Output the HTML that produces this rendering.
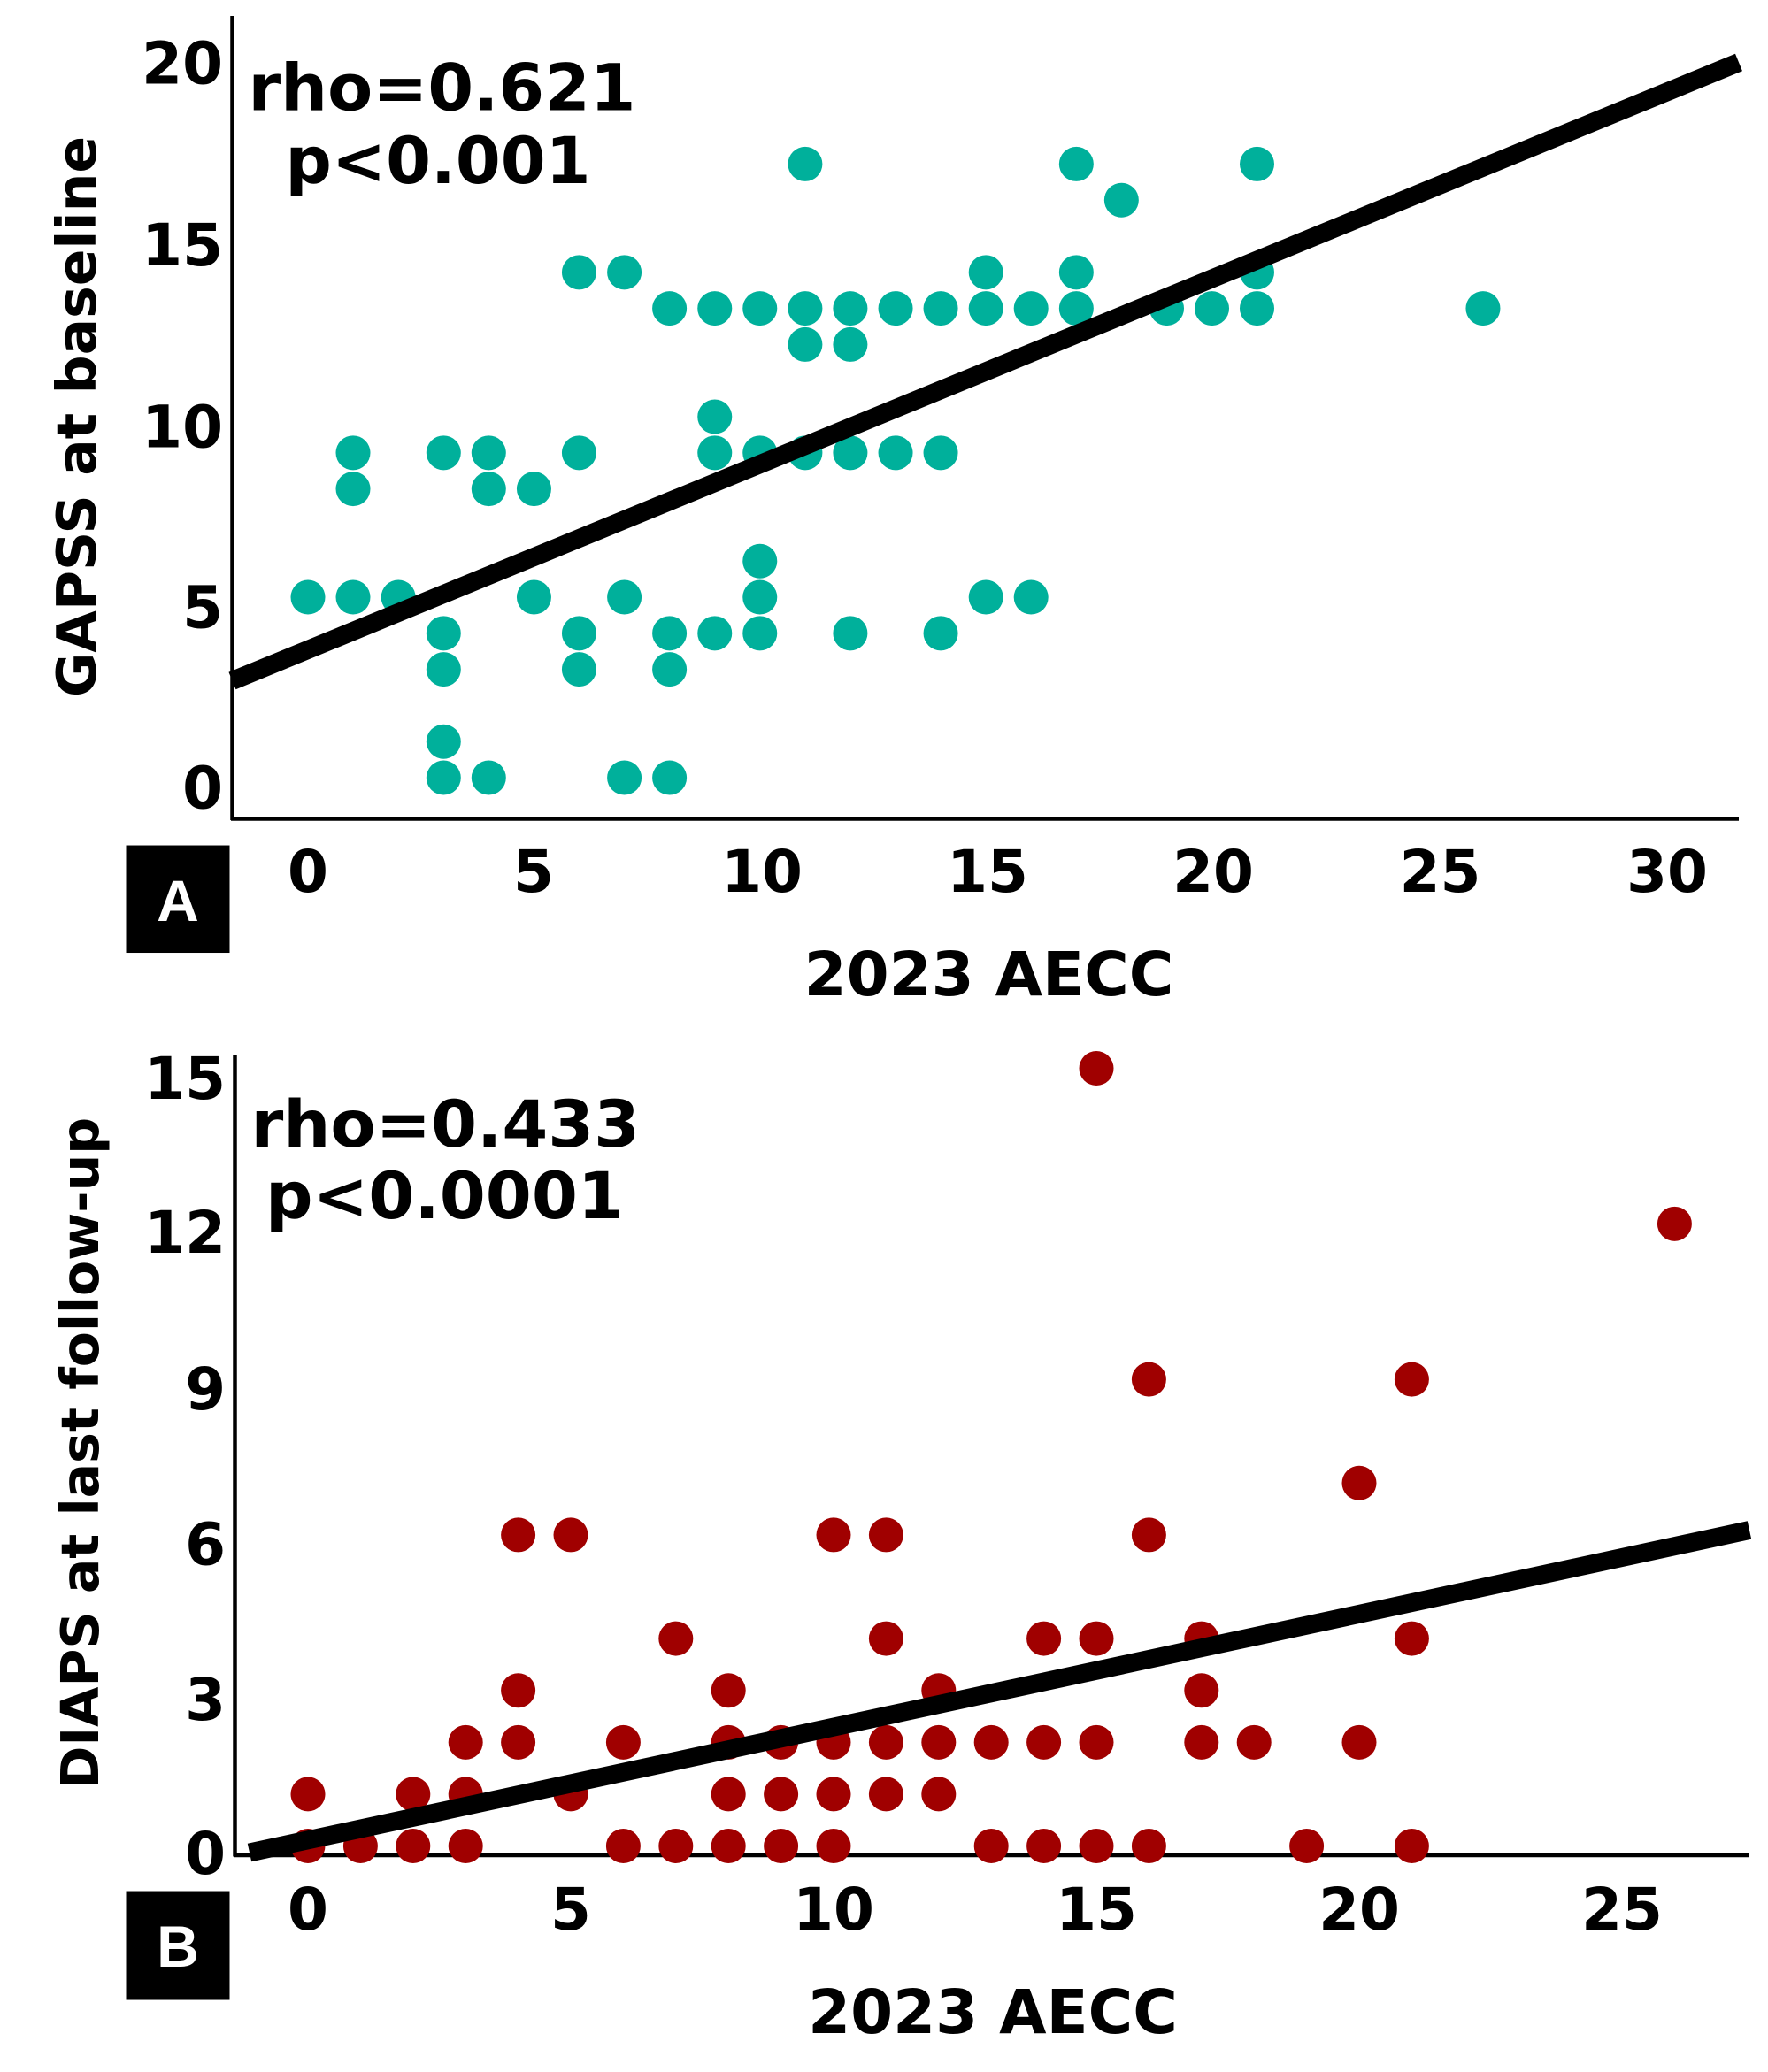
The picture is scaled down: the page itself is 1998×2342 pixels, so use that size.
<!DOCTYPE html>
<html><head><meta charset="utf-8"><style>html,body{margin:0;padding:0;background:#fff}svg{display:block}</style></head><body>
<svg width="1998" height="2342" viewBox="0 0 1332 1561.3" xmlns="http://www.w3.org/2000/svg" font-family="'DejaVu Sans','Liberation Sans',sans-serif" font-weight="bold">
<rect width="1332" height="1562" fill="#fff"/>
<line x1="175" y1="12" x2="175" y2="618" stroke="#000" stroke-width="3"/>
<line x1="174" y1="617" x2="1310" y2="617" stroke="#000" stroke-width="3"/>
<g font-size="44" text-anchor="end">
<text x="168" y="63">20</text><text x="168" y="200">15</text><text x="168" y="337">10</text><text x="168" y="473">5</text><text x="168" y="609">0</text>
</g>
<g font-size="44" text-anchor="middle">
<text x="232" y="672">0</text><text x="402" y="672">5</text><text x="574" y="672">10</text><text x="744" y="672">15</text><text x="914" y="672">20</text><text x="1085" y="672">25</text><text x="1256" y="672">30</text>
</g>
<text x="745" y="750" font-size="46" text-anchor="middle">2023 AECC</text>
<text transform="translate(72,314) rotate(-90)" font-size="41" text-anchor="middle">GAPSS at baseline</text>
<text x="187" y="83" font-size="49" textLength="292" lengthAdjust="spacingAndGlyphs">rho=0.621</text>
<text x="215" y="138" font-size="49" textLength="230" lengthAdjust="spacingAndGlyphs">p&lt;0.001</text>
<rect x="95" y="637" width="78" height="81" fill="#000"/>
<text x="134" y="694" font-size="44" fill="#fff" text-anchor="middle" font-family="'Liberation Sans',sans-serif">A</text>

<line x1="177" y1="795" x2="177" y2="1399" stroke="#000" stroke-width="3"/>
<line x1="176" y1="1398" x2="1318" y2="1398" stroke="#000" stroke-width="3"/>
<g font-size="44" text-anchor="end">
<text x="170" y="828">15</text><text x="170" y="944">12</text><text x="170" y="1062">9</text><text x="170" y="1179">6</text><text x="170" y="1296">3</text><text x="170" y="1412">0</text>
</g>
<g font-size="44" text-anchor="middle">
<text x="232" y="1454">0</text><text x="430" y="1454">5</text><text x="628" y="1454">10</text><text x="826" y="1454">15</text><text x="1024" y="1454">20</text><text x="1222" y="1454">25</text>
</g>
<text x="748" y="1532" font-size="46" text-anchor="middle">2023 AECC</text>
<text transform="translate(74,1095) rotate(-90)" font-size="39" text-anchor="middle">DIAPS at last follow-up</text>
<text x="189" y="864" font-size="49" textLength="293" lengthAdjust="spacingAndGlyphs">rho=0.433</text>
<text x="200" y="918" font-size="49" textLength="270" lengthAdjust="spacingAndGlyphs">p&lt;0.0001</text>
<rect x="95" y="1425" width="78" height="82" fill="#000"/>
<text x="134" y="1482" font-size="44" fill="#fff" text-anchor="middle" font-family="'Liberation Sans',sans-serif">B</text>

<g fill="#00b09b">
<circle cx="606.6" cy="123.6" r="13"/><circle cx="810.9" cy="123.6" r="13"/><circle cx="947" cy="123.6" r="13"/>
<circle cx="844.9" cy="150.8" r="13"/>
<circle cx="436.3" cy="205.2" r="13"/><circle cx="470.4" cy="205.2" r="13"/><circle cx="742.8" cy="205.2" r="13"/><circle cx="810.9" cy="205.2" r="13"/><circle cx="947" cy="205.2" r="13"/>
<circle cx="504.4" cy="232.4" r="13"/><circle cx="538.5" cy="232.4" r="13"/><circle cx="572.5" cy="232.4" r="13"/><circle cx="606.6" cy="232.4" r="13"/><circle cx="640.6" cy="232.4" r="13"/><circle cx="674.7" cy="232.4" r="13"/><circle cx="708.7" cy="232.4" r="13"/><circle cx="742.8" cy="232.4" r="13"/><circle cx="776.8" cy="232.4" r="13"/><circle cx="810.9" cy="232.4" r="13"/><circle cx="879" cy="232.4" r="13"/><circle cx="913" cy="232.4" r="13"/><circle cx="947" cy="232.4" r="13"/><circle cx="1117.3" cy="232.4" r="13"/>
<circle cx="606.6" cy="259.6" r="13"/><circle cx="640.6" cy="259.6" r="13"/>
<circle cx="538.5" cy="314" r="13"/>
<circle cx="266" cy="341.2" r="13"/><circle cx="334.2" cy="341.2" r="13"/><circle cx="368.2" cy="341.2" r="13"/><circle cx="436.3" cy="341.2" r="13"/><circle cx="538.5" cy="341.2" r="13"/><circle cx="572.5" cy="341.2" r="13"/><circle cx="606.6" cy="341.2" r="13"/><circle cx="640.6" cy="341.2" r="13"/><circle cx="674.7" cy="341.2" r="13"/><circle cx="708.7" cy="341.2" r="13"/>
<circle cx="266" cy="368.4" r="13"/><circle cx="368.2" cy="368.4" r="13"/><circle cx="402.3" cy="368.4" r="13"/>
<circle cx="572.5" cy="422.8" r="13"/>
<circle cx="232" cy="450" r="13"/><circle cx="266" cy="450" r="13"/><circle cx="300.1" cy="450" r="13"/><circle cx="402.3" cy="450" r="13"/><circle cx="470.4" cy="450" r="13"/><circle cx="572.5" cy="450" r="13"/><circle cx="742.8" cy="450" r="13"/><circle cx="776.8" cy="450" r="13"/>
<circle cx="334.2" cy="477.2" r="13"/><circle cx="436.3" cy="477.2" r="13"/><circle cx="504.4" cy="477.2" r="13"/><circle cx="538.5" cy="477.2" r="13"/><circle cx="572.5" cy="477.2" r="13"/><circle cx="640.6" cy="477.2" r="13"/><circle cx="708.7" cy="477.2" r="13"/>
<circle cx="334.2" cy="504.4" r="13"/><circle cx="436.3" cy="504.4" r="13"/><circle cx="504.4" cy="504.4" r="13"/>
<circle cx="334.2" cy="558.8" r="13"/>
<circle cx="334.2" cy="586" r="13"/><circle cx="368.2" cy="586" r="13"/><circle cx="470.4" cy="586" r="13"/><circle cx="504.4" cy="586" r="13"/>
</g>
<line x1="175" y1="513" x2="1310" y2="47" stroke="#000" stroke-width="14"/>
<g fill="#a00000">
<circle cx="826" cy="805" r="13"/>
<circle cx="1261.6" cy="922.2" r="13"/>
<circle cx="865.6" cy="1039.4" r="13"/><circle cx="1063.6" cy="1039.4" r="13"/>
<circle cx="1024" cy="1117.5" r="13"/>
<circle cx="390.4" cy="1156.6" r="13"/><circle cx="430" cy="1156.6" r="13"/><circle cx="628" cy="1156.6" r="13"/><circle cx="667.6" cy="1156.6" r="13"/><circle cx="865.6" cy="1156.6" r="13"/>
<circle cx="509.2" cy="1234.7" r="13"/><circle cx="667.6" cy="1234.7" r="13"/><circle cx="786.4" cy="1234.7" r="13"/><circle cx="826" cy="1234.7" r="13"/><circle cx="905.2" cy="1234.7" r="13"/><circle cx="1063.6" cy="1234.7" r="13"/>
<circle cx="390.4" cy="1273.8" r="13"/><circle cx="548.8" cy="1273.8" r="13"/><circle cx="707.2" cy="1273.8" r="13"/><circle cx="905.2" cy="1273.8" r="13"/>
<circle cx="350.8" cy="1312.9" r="13"/><circle cx="390.4" cy="1312.9" r="13"/><circle cx="469.6" cy="1312.9" r="13"/><circle cx="548.8" cy="1312.9" r="13"/><circle cx="588.4" cy="1312.9" r="13"/><circle cx="628" cy="1312.9" r="13"/><circle cx="667.6" cy="1312.9" r="13"/><circle cx="707.2" cy="1312.9" r="13"/><circle cx="746.8" cy="1312.9" r="13"/><circle cx="786.4" cy="1312.9" r="13"/><circle cx="826" cy="1312.9" r="13"/><circle cx="905.2" cy="1312.9" r="13"/><circle cx="944.8" cy="1312.9" r="13"/><circle cx="1024" cy="1312.9" r="13"/>
<circle cx="232" cy="1351.9" r="13"/><circle cx="311.2" cy="1351.9" r="13"/><circle cx="350.8" cy="1351.9" r="13"/><circle cx="430" cy="1351.9" r="13"/><circle cx="548.8" cy="1351.9" r="13"/><circle cx="588.4" cy="1351.9" r="13"/><circle cx="628" cy="1351.9" r="13"/><circle cx="667.6" cy="1351.9" r="13"/><circle cx="707.2" cy="1351.9" r="13"/>
<circle cx="232" cy="1391" r="13"/><circle cx="271.6" cy="1391" r="13"/><circle cx="311.2" cy="1391" r="13"/><circle cx="350.8" cy="1391" r="13"/><circle cx="469.6" cy="1391" r="13"/><circle cx="509.2" cy="1391" r="13"/><circle cx="548.8" cy="1391" r="13"/><circle cx="588.4" cy="1391" r="13"/><circle cx="628" cy="1391" r="13"/><circle cx="746.8" cy="1391" r="13"/><circle cx="786.4" cy="1391" r="13"/><circle cx="826" cy="1391" r="13"/><circle cx="865.6" cy="1391" r="13"/><circle cx="984.4" cy="1391" r="13"/><circle cx="1063.6" cy="1391" r="13"/>
</g>
<line x1="188" y1="1396" x2="1318" y2="1153" stroke="#000" stroke-width="14"/>
</svg>
</body></html>
